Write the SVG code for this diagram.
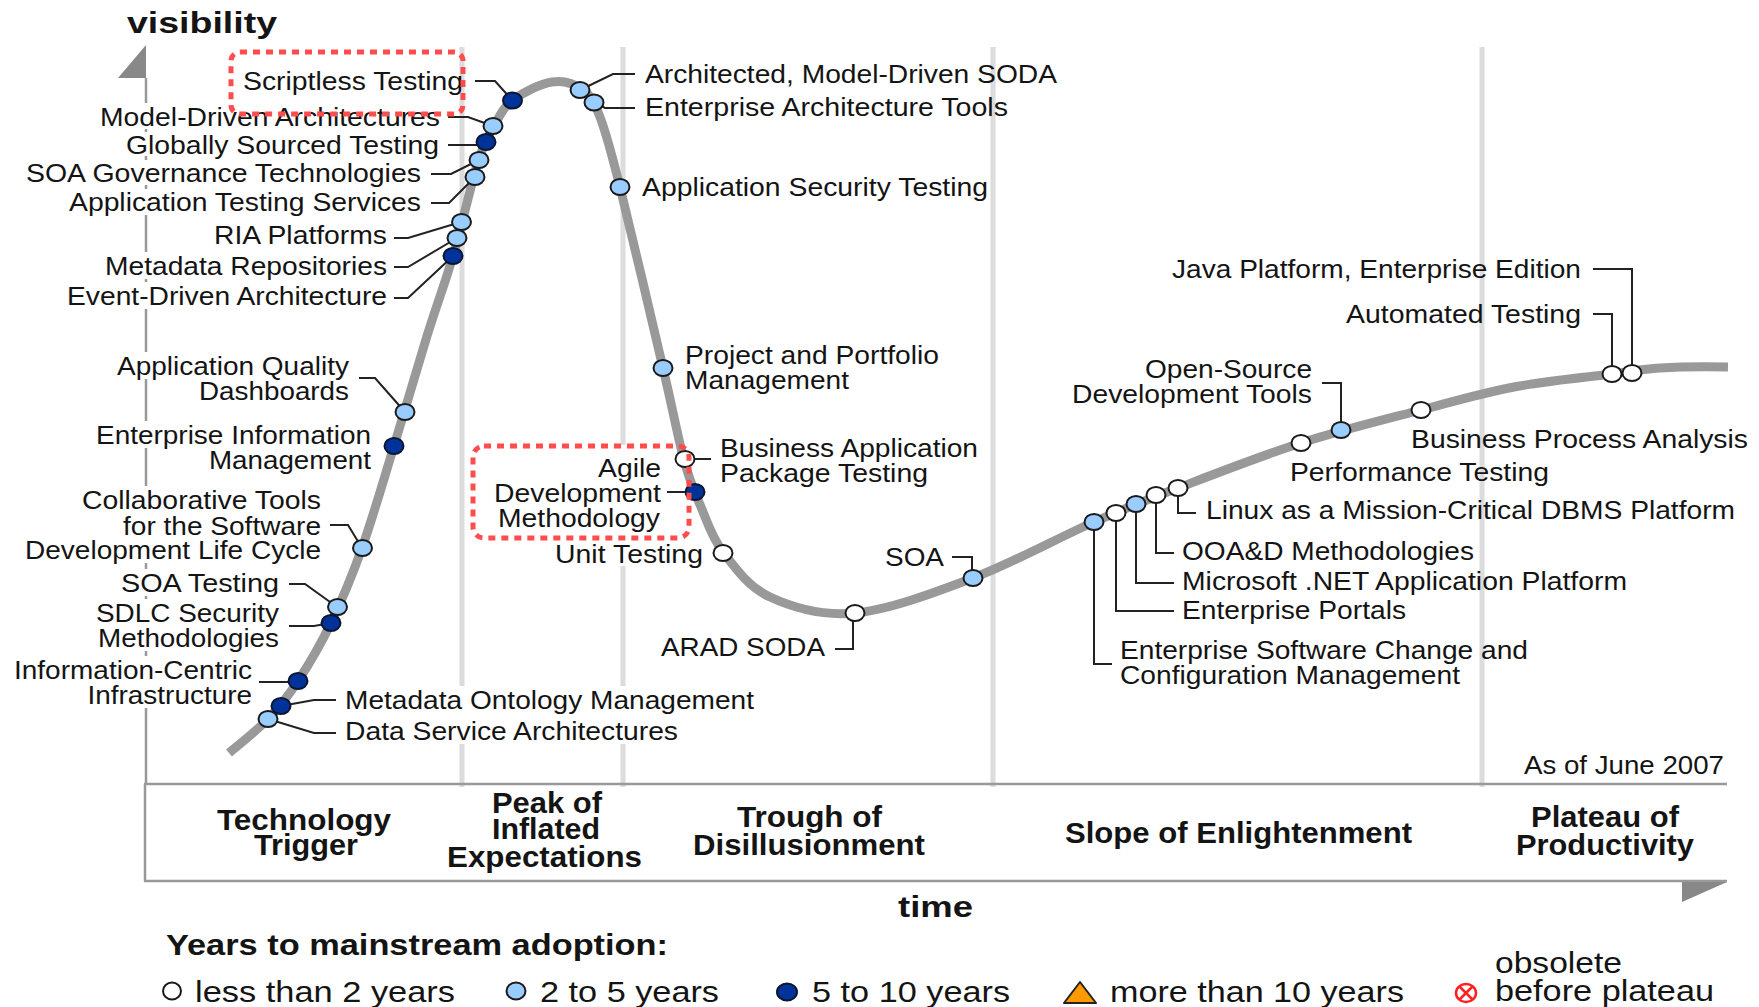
<svg xmlns="http://www.w3.org/2000/svg" width="1759" height="1007" viewBox="0 0 1759 1007">
<style>
text{font-family:"Liberation Sans",Arial,Helvetica,sans-serif;fill:#141414}
.lb{font-size:25px}
.ph{font-size:29px;font-weight:bold}
.lg{font-size:29px}
.sep{stroke:#dcdcdc;stroke-width:5;fill:none}
.ax{stroke:#999;stroke-width:2.5;fill:none}
.arw{fill:#888}
.curve{stroke:#999;stroke-width:9;fill:none;stroke-linejoin:round}
.con{stroke:#222;stroke-width:2;fill:none}
.d5{fill:#003399;stroke:#0b1633;stroke-width:2}
.d2{fill:#99ccff;stroke:#1a1a1a;stroke-width:2}
.d0{fill:#ffffff;stroke:#1a1a1a;stroke-width:2}
.hl{fill:none;stroke:#ff4d4d;stroke-width:5;stroke-dasharray:7 6}
</style>
<rect x="0" y="0" width="1759" height="1007" fill="#ffffff"/>

<g id="frame">
  <path class="sep" d="M462,47V686M462,744V787M623,47V445M623,566V686M623,744V787M993,47V787M1482,47V787"/>
  <path class="ax" d="M146,78V103M146,129V132M146,156V160M146,185V189M146,215V252M146,279V282M146,309V352M146,379V421M146,448V486M146,563V569M146,596V599M146,651V656M146,708V784"/>
  <path class="ax" d="M144,784H1727M145,784V881M144,881H1727"/>
  <polygon class="arw" points="146,45 118,78 146,78"/>
  <polygon class="arw" points="1682,882 1727,882 1682,902"/>
  <text class="ph" x="127" y="33" font-size="32" textLength="150" lengthAdjust="spacingAndGlyphs">visibility</text>
  <text class="ph" x="898" y="917" font-size="32" textLength="75" lengthAdjust="spacingAndGlyphs">time</text>
  <text class="lb" x="1524" y="774" font-size="24" textLength="200" lengthAdjust="spacingAndGlyphs">As of June 2007</text>
</g>

<g id="phases">
  <text class="ph" x="217" y="830" textLength="174" lengthAdjust="spacingAndGlyphs">Technology</text>
  <text class="ph" x="254" y="855" textLength="104" lengthAdjust="spacingAndGlyphs">Trigger</text>
  <text class="ph" x="492" y="813" textLength="110" lengthAdjust="spacingAndGlyphs">Peak of</text>
  <text class="ph" x="492" y="839" textLength="108" lengthAdjust="spacingAndGlyphs">Inflated</text>
  <text class="ph" x="447" y="867" textLength="195" lengthAdjust="spacingAndGlyphs">Expectations</text>
  <text class="ph" x="737" y="827" textLength="145" lengthAdjust="spacingAndGlyphs">Trough of</text>
  <text class="ph" x="693" y="855" textLength="232" lengthAdjust="spacingAndGlyphs">Disillusionment</text>
  <text class="ph" x="1065" y="843" textLength="347" lengthAdjust="spacingAndGlyphs">Slope of Enlightenment</text>
  <text class="ph" x="1531" y="827" textLength="148" lengthAdjust="spacingAndGlyphs">Plateau of</text>
  <text class="ph" x="1516" y="855" textLength="178" lengthAdjust="spacingAndGlyphs">Productivity</text>
</g>

<path id="hype-curve" class="curve" d="M229,753 C235.5,747.3 256.5,731 268,719 C279.5,707 287.5,697 298,681 C308.5,665 320.3,645.2 331,623 C341.7,600.8 351.5,577.5 362,548 C372.5,518.5 383.2,481.3 394,446 C404.8,410.7 417.2,367.7 427,336 C436.8,304.3 444.5,285 453,256 C461.5,227 471.2,183.7 478,162 C484.8,140.3 488.2,136.3 494,126 C499.8,115.7 503.3,107.3 513,100 C522.7,92.7 540.3,83.7 552,82 C563.7,80.3 575,84.2 583,90 C591,95.8 593.8,100.8 600,117 C606.2,133.2 609.5,145.2 620,187 C630.5,228.8 652.3,322.5 663,368 C673.7,413.5 677.7,436.8 684,460 C690.3,483.2 694.5,491.7 701,507 C707.5,522.3 711.5,537 723,552 C734.5,567 748,586.8 770,597 C792,607.2 821.2,616.2 855,613 C888.8,609.8 933.2,593.2 973,578 C1012.8,562.8 1059.8,537 1094,522 C1128.2,507 1143.5,501.2 1178,488 C1212.5,474.8 1260.5,456 1301,443 C1341.5,430 1385.5,419.3 1421,410 C1456.5,400.7 1482.2,393 1514,387 C1545.8,381 1587.7,377.2 1612,374 C1636.3,370.8 1640.7,369.2 1660,368 C1679.3,366.8 1716.7,366.8 1728,367"/>

<g id="connectors" class="con">
  <path d="M475,81H495L512,100"/>
  <path d="M448,117H468L493,126"/>
  <path d="M448,145H482"/>
  <path d="M431,174H451L479,160"/>
  <path d="M431,203H449L475,177"/>
  <path d="M394,238H408L461,222"/>
  <path d="M394,267H408L457,238"/>
  <path d="M394,298H408L453,256"/>
  <path d="M359,378H375L405,412"/>
  <path d="M330,525H348L362,548"/>
  <path d="M289,584H305L337,607"/>
  <path d="M289,626H314L331,623"/>
  <path d="M259,682H298"/>
  <path d="M281,706L314,700H336"/>
  <path d="M268,719L314,733H336"/>
  <path d="M580,90L613,74H635"/>
  <path d="M594,102L605,108H635"/>
  <path d="M685,459H711"/>
  <path d="M667,492H695"/>
  <path d="M952,557H972V578"/>
  <path d="M853,613V649H835"/>
  <path d="M1593,269H1632V373"/>
  <path d="M1593,314H1612V374"/>
  <path d="M1322,383H1341V430"/>
  <path d="M1178,488V513H1196"/>
  <path d="M1156,495V553H1174"/>
  <path d="M1136,504V583H1174"/>
  <path d="M1116,513V611H1174"/>
  <path d="M1094,522V664H1112"/>
</g>

<g id="n-scriptless"><ellipse class="d5" cx="512.5" cy="100.5" rx="9.5" ry="8"/><text class="lb" x="243" y="90" textLength="220" lengthAdjust="spacingAndGlyphs">Scriptless Testing</text></g>
<g id="n-mda"><ellipse class="d2" cx="493" cy="126" rx="9.5" ry="8"/><text class="lb" x="100" y="126" textLength="340" lengthAdjust="spacingAndGlyphs">Model-Driven Architectures</text></g>
<g id="n-gst"><ellipse class="d5" cx="486" cy="142" rx="9.5" ry="8"/><text class="lb" x="126" y="154" textLength="313" lengthAdjust="spacingAndGlyphs">Globally Sourced Testing</text></g>
<g id="n-soagov"><ellipse class="d2" cx="479" cy="160" rx="9.5" ry="8"/><text class="lb" x="26" y="182" textLength="395" lengthAdjust="spacingAndGlyphs">SOA Governance Technologies</text></g>
<g id="n-ats"><ellipse class="d2" cx="475" cy="177" rx="9.5" ry="8"/><text class="lb" x="69" y="211" textLength="352" lengthAdjust="spacingAndGlyphs">Application Testing Services</text></g>
<g id="n-ria"><ellipse class="d2" cx="461.5" cy="222" rx="9.5" ry="8"/><text class="lb" x="214" y="244" textLength="173" lengthAdjust="spacingAndGlyphs">RIA Platforms</text></g>
<g id="n-mdr"><ellipse class="d2" cx="457" cy="238" rx="9.5" ry="8"/><text class="lb" x="105" y="275" textLength="282" lengthAdjust="spacingAndGlyphs">Metadata Repositories</text></g>
<g id="n-eda"><ellipse class="d5" cx="453" cy="256" rx="9.5" ry="8"/><text class="lb" x="67" y="305" textLength="320" lengthAdjust="spacingAndGlyphs">Event-Driven Architecture</text></g>
<g id="n-aqd"><ellipse class="d2" cx="405" cy="412" rx="9.5" ry="8"/><text class="lb" x="117" y="375" textLength="232" lengthAdjust="spacingAndGlyphs">Application Quality</text><text class="lb" x="199" y="400" textLength="150" lengthAdjust="spacingAndGlyphs">Dashboards</text></g>
<g id="n-eim"><ellipse class="d5" cx="394" cy="446" rx="9.5" ry="8"/><text class="lb" x="96" y="444" textLength="275" lengthAdjust="spacingAndGlyphs">Enterprise Information</text><text class="lb" x="209" y="469" textLength="162" lengthAdjust="spacingAndGlyphs">Management</text></g>
<g id="n-ctsdlc"><ellipse class="d2" cx="362.5" cy="548" rx="9.5" ry="8"/><text class="lb" x="82" y="509" textLength="239" lengthAdjust="spacingAndGlyphs">Collaborative Tools</text><text class="lb" x="123" y="535" textLength="198" lengthAdjust="spacingAndGlyphs">for the Software</text><text class="lb" x="25" y="559" textLength="296" lengthAdjust="spacingAndGlyphs">Development Life Cycle</text></g>
<g id="n-soatest"><ellipse class="d2" cx="337.5" cy="607" rx="9.5" ry="8"/><text class="lb" x="121" y="592" textLength="158" lengthAdjust="spacingAndGlyphs">SOA Testing</text></g>
<g id="n-sdlc"><ellipse class="d5" cx="331" cy="623" rx="9.5" ry="8"/><text class="lb" x="96" y="622" textLength="183" lengthAdjust="spacingAndGlyphs">SDLC Security</text><text class="lb" x="98" y="647" textLength="181" lengthAdjust="spacingAndGlyphs">Methodologies</text></g>
<g id="n-ici"><ellipse class="d5" cx="298" cy="681" rx="9.5" ry="8"/><text class="lb" x="14" y="679" textLength="238" lengthAdjust="spacingAndGlyphs">Information-Centric</text><text class="lb" x="87.5" y="704" textLength="164.5" lengthAdjust="spacingAndGlyphs">Infrastructure</text></g>
<g id="n-mom"><ellipse class="d5" cx="281" cy="706" rx="9.5" ry="8"/><text class="lb" x="345" y="709" textLength="409" lengthAdjust="spacingAndGlyphs">Metadata Ontology Management</text></g>
<g id="n-dsa"><ellipse class="d2" cx="268" cy="719" rx="9.5" ry="8"/><text class="lb" x="345" y="740" textLength="333" lengthAdjust="spacingAndGlyphs">Data Service Architectures</text></g>
<g id="n-amds"><ellipse class="d2" cx="580" cy="90" rx="9.5" ry="8"/><text class="lb" x="645" y="83" textLength="412" lengthAdjust="spacingAndGlyphs">Architected, Model-Driven SODA</text></g>
<g id="n-eat"><ellipse class="d2" cx="594" cy="102.5" rx="9.5" ry="8"/><text class="lb" x="645" y="116" textLength="363" lengthAdjust="spacingAndGlyphs">Enterprise Architecture Tools</text></g>
<g id="n-ast"><ellipse class="d2" cx="620" cy="187" rx="9.5" ry="8"/><text class="lb" x="642" y="196" textLength="346" lengthAdjust="spacingAndGlyphs">Application Security Testing</text></g>
<g id="n-ppm"><ellipse class="d2" cx="663" cy="368" rx="9.5" ry="8"/><text class="lb" x="685" y="364" textLength="254" lengthAdjust="spacingAndGlyphs">Project and Portfolio</text><text class="lb" x="685" y="389" textLength="164" lengthAdjust="spacingAndGlyphs">Management</text></g>
<g id="n-bapt"><ellipse class="d0" cx="685" cy="459" rx="9.5" ry="8"/><text class="lb" x="720" y="457" textLength="258" lengthAdjust="spacingAndGlyphs">Business Application</text><text class="lb" x="720" y="482" textLength="208" lengthAdjust="spacingAndGlyphs">Package Testing</text></g>
<g id="n-adm"><ellipse class="d5" cx="695" cy="492" rx="9.5" ry="8"/><text class="lb" x="598" y="477" textLength="63" lengthAdjust="spacingAndGlyphs">Agile</text><text class="lb" x="494" y="502" textLength="167" lengthAdjust="spacingAndGlyphs">Development</text><text class="lb" x="498" y="527" textLength="162" lengthAdjust="spacingAndGlyphs">Methodology</text></g>
<g id="n-unit"><ellipse class="d0" cx="723" cy="553" rx="9.5" ry="8"/><text class="lb" x="555" y="563" textLength="148" lengthAdjust="spacingAndGlyphs">Unit Testing</text></g>
<g id="n-arad"><ellipse class="d0" cx="855" cy="613" rx="9.5" ry="8"/><text class="lb" x="661" y="656" textLength="164" lengthAdjust="spacingAndGlyphs">ARAD SODA</text></g>
<g id="n-soa"><ellipse class="d2" cx="973" cy="578" rx="9.5" ry="8"/><text class="lb" x="885" y="566" textLength="59" lengthAdjust="spacingAndGlyphs">SOA</text></g>
<g id="n-esccm"><ellipse class="d2" cx="1094" cy="522" rx="9.5" ry="8"/><text class="lb" x="1120" y="659" textLength="408" lengthAdjust="spacingAndGlyphs">Enterprise Software Change and</text><text class="lb" x="1120" y="684" textLength="340" lengthAdjust="spacingAndGlyphs">Configuration Management</text></g>
<g id="n-ep"><ellipse class="d0" cx="1116" cy="513" rx="9.5" ry="8"/><text class="lb" x="1182" y="619" textLength="224" lengthAdjust="spacingAndGlyphs">Enterprise Portals</text></g>
<g id="n-msnet"><ellipse class="d2" cx="1136" cy="504" rx="9.5" ry="8"/><text class="lb" x="1182" y="590" textLength="445" lengthAdjust="spacingAndGlyphs">Microsoft .NET Application Platform</text></g>
<g id="n-ooad"><ellipse class="d0" cx="1156" cy="495" rx="9.5" ry="8"/><text class="lb" x="1182" y="560" textLength="292" lengthAdjust="spacingAndGlyphs">OOA&amp;D Methodologies</text></g>
<g id="n-linux"><ellipse class="d0" cx="1178" cy="488" rx="9.5" ry="8"/><text class="lb" x="1206" y="519" textLength="529" lengthAdjust="spacingAndGlyphs">Linux as a Mission-Critical DBMS Platform</text></g>
<g id="n-perf"><ellipse class="d0" cx="1301" cy="443" rx="9.5" ry="8"/><text class="lb" x="1290" y="481" textLength="259" lengthAdjust="spacingAndGlyphs">Performance Testing</text></g>
<g id="n-osdt"><ellipse class="d2" cx="1341" cy="430" rx="9.5" ry="8"/><text class="lb" x="1145" y="378" textLength="167" lengthAdjust="spacingAndGlyphs">Open-Source</text><text class="lb" x="1072" y="403" textLength="240" lengthAdjust="spacingAndGlyphs">Development Tools</text></g>
<g id="n-bpa"><ellipse class="d0" cx="1421" cy="410" rx="9.5" ry="8"/><text class="lb" x="1411" y="448" textLength="337" lengthAdjust="spacingAndGlyphs">Business Process Analysis</text></g>
<g id="n-auto"><ellipse class="d0" cx="1612" cy="374" rx="9.5" ry="8"/><text class="lb" x="1346" y="323" textLength="235" lengthAdjust="spacingAndGlyphs">Automated Testing</text></g>
<g id="n-javaee"><ellipse class="d0" cx="1632" cy="373" rx="9.5" ry="8"/><text class="lb" x="1172" y="278" textLength="409" lengthAdjust="spacingAndGlyphs">Java Platform, Enterprise Edition</text></g>

<g id="highlights">
  <rect class="hl" x="231" y="52" width="232" height="62" rx="9"/>
  <rect class="hl" x="473" y="446" width="216" height="92" rx="11"/>
</g>

<g id="legend">
  <text class="ph" x="166" y="955" font-size="29" textLength="502" lengthAdjust="spacingAndGlyphs">Years to mainstream adoption:</text>
  <ellipse class="d0" cx="172" cy="991" rx="9" ry="8.5"/>
  <text class="lg" x="195" y="1002" textLength="260" lengthAdjust="spacingAndGlyphs">less than 2 years</text>
  <ellipse class="d2" cx="516" cy="991" rx="9.5" ry="8.5"/>
  <text class="lg" x="540" y="1002" textLength="179" lengthAdjust="spacingAndGlyphs">2 to 5 years</text>
  <ellipse class="d5" cx="787" cy="992" rx="10" ry="8.5"/>
  <text class="lg" x="812" y="1002" textLength="198" lengthAdjust="spacingAndGlyphs">5 to 10 years</text>
  <polygon points="1064,1003 1080,982 1096,1003" fill="#ff9900" stroke="#222" stroke-width="2" stroke-linejoin="round"/>
  <text class="lg" x="1110" y="1002" textLength="294" lengthAdjust="spacingAndGlyphs">more than 10 years</text>
  <ellipse cx="1466" cy="993" rx="10" ry="9" fill="#fff" stroke="#ff2020" stroke-width="2.5"/>
  <path d="M1459.5,986.5L1472.5,999.5M1472.5,986.5L1459.5,999.5" stroke="#ff2020" stroke-width="2.5"/>
  <text class="lg" x="1495" y="973" textLength="127" lengthAdjust="spacingAndGlyphs">obsolete</text>
  <text class="lg" x="1495" y="1001" textLength="219" lengthAdjust="spacingAndGlyphs">before plateau</text>
</g>
</svg>
